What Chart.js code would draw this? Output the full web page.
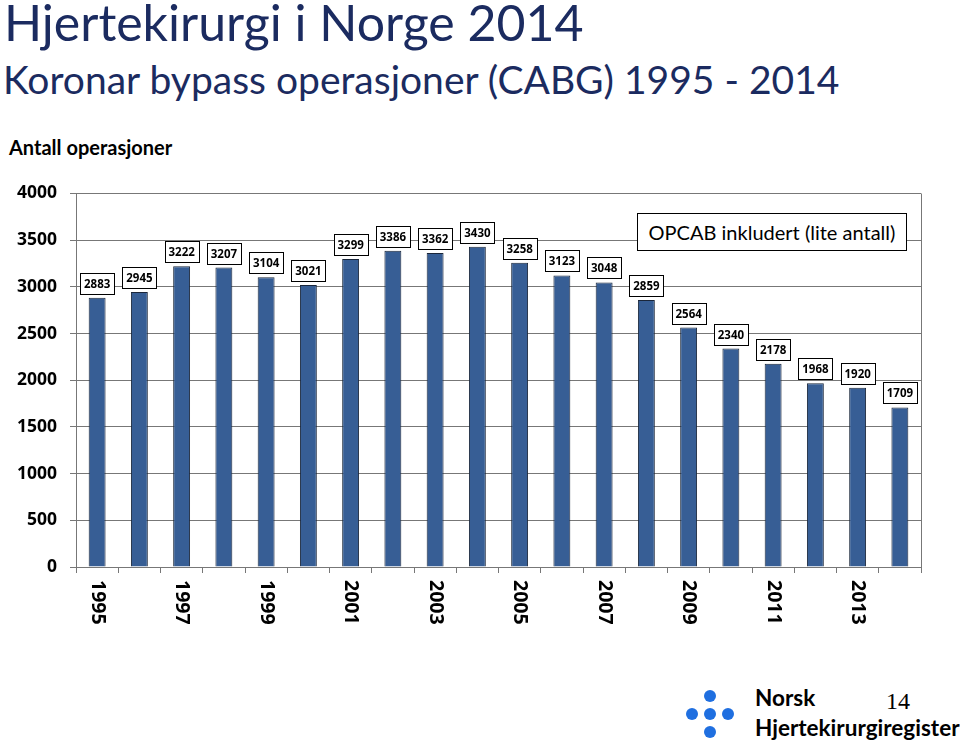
<!DOCTYPE html>
<html>
<head>
<meta charset="utf-8">
<script src="https://cdn.jsdelivr.net/npm/chart.js@4.4.1/dist/chart.umd.min.js"></script>
<style>
  body { margin: 0; width: 960px; height: 743px; position: relative; background: #fff; overflow: hidden; font-family: Lato, 'Open Sans', sans-serif; }
  .tittel { position: absolute; white-space: nowrap; color: #1b2b60; }
  #tittel { left: 4px; top: -8px; font-size: 50px; }
  #undertittel { left: 3px; top: 56px; font-size: 39px; }
  #ytittel { position: absolute; left: 9px; top: 135px; font-size: 20px; font-weight: bold; }
  #boks { position: absolute; left: 637px; top: 213px; width: 268px; height: 36px; border: 1px solid #000; background: #fff;
          font-size: 20px; text-align: center; line-height: 36px; z-index: 2; white-space: nowrap; }
  #wrap { position: absolute; left: 0; top: 170px; width: 960px; height: 470px; }
  .prikk { position: absolute; width: 12px; height: 12px; border-radius: 50%; background: #1f6fe0; }
  #norsk { position: absolute; left: 755px; top: 684px; font-size: 22.5px; font-weight: bold; }
  #register { position: absolute; left: 755px; top: 714px; font-size: 22.5px; font-weight: bold; white-space: nowrap; }
  #side { position: absolute; left: 886px; top: 688px; font-size: 24px; font-family: 'Liberation Serif', serif; }
</style>
</head>
<body>
<div class="tittel" id="tittel">Hjertekirurgi i Norge 2014</div>
<div class="tittel" id="undertittel">Koronar bypass operasjoner (CABG) 1995 - 2014</div>
<div id="ytittel">Antall operasjoner</div>
<div id="boks">OPCAB inkludert (lite antall)</div>
<div id="wrap"><canvas id="graf" width="960" height="470"></canvas></div>

<div class="prikk" style="left:704px;top:690px"></div>
<div class="prikk" style="left:686px;top:708px"></div>
<div class="prikk" style="left:704px;top:708px"></div>
<div class="prikk" style="left:722px;top:708px"></div>
<div class="prikk" style="left:704px;top:726px"></div>
<div id="norsk">Norsk</div>
<div id="register">Hjertekirurgiregister</div>
<div id="side">14</div>

<script>
// Data
const aar = ['1995', '1996', '1997', '1998', '1999', '2000', '2001', '2002', '2003', '2004',
             '2005', '2006', '2007', '2008', '2009', '2010', '2011', '2012', '2013', '2014'];
const operasjoner = [2883, 2945, 3222, 3207, 3104, 3021, 3299, 3386, 3362, 3430,
                     3258, 3123, 3048, 2859, 2564, 2340, 2178, 1968, 1920, 1709];
const yMin = 0;
const yMax = 4000;
const ySteg = 500;

// Etiketter over søylene + roterte årstall
const etiketter = {
  id: 'etiketter',
  beforeDatasetsDraw(chart) {
    // ramme til høyre
    const { ctx, chartArea: a } = chart;
    ctx.save();
    ctx.strokeStyle = '#777';
    ctx.lineWidth = 1;
    ctx.beginPath();
    ctx.moveTo(Math.round(a.right) + 0.5, a.top);
    ctx.lineTo(Math.round(a.right) + 0.5, a.bottom);
    ctx.stroke();
    ctx.restore();
  },
  afterDatasetsDraw(chart) {
    const ctx = chart.ctx;
    const meta = chart.getDatasetMeta(0);
    ctx.save();
    ctx.font = 'bold 11.5px "Open Sans"';
    ctx.textAlign = 'center';
    ctx.textBaseline = 'middle';
    meta.data.forEach((bar, i) => {
      const txt = String(operasjoner[i]);
      const w = Math.round(ctx.measureText(txt).width) + 8;
      const h = 21;
      const x = Math.round(bar.x - w / 2) + 0.5;
      const y = Math.round(bar.y - 4 - h) + 0.5;
      ctx.fillStyle = '#fff';
      ctx.fillRect(x, y, w, h);
      ctx.strokeStyle = '#000';
      ctx.lineWidth = 1;
      ctx.strokeRect(x, y, w, h);
      ctx.fillStyle = '#000';
      ctx.fillText(txt, bar.x, y + h / 2 + 0.5);
    });

    const xs = chart.scales.x;
    ctx.font = 'bold 19.5px "Open Sans"';
    ctx.textAlign = 'left';
    aar.forEach((a, i) => {
      if (i % 2) return;
      ctx.save();
      ctx.translate(xs.getPixelForValue(i), xs.top + 13);
      ctx.rotate(Math.PI / 2);
      ctx.fillText(a, 0, 0);
      ctx.restore();
    });
    ctx.restore();
  }
};

new Chart(document.getElementById('graf'), {
  type: 'bar',
  data: {
    labels: aar,
    datasets: [{
      data: operasjoner,
      backgroundColor: '#375e95',
      borderColor: '#1a263a',
      borderWidth: 1,
      barPercentage: 0.4,
      categoryPercentage: 1
    }]
  },
  options: {
    responsive: false,
    animation: false,
    layout: { padding: { left: 0, right: 39, top: 23, bottom: 0 } },
    scales: {
      x: {
        grid: { drawOnChartArea: false, drawTicks: true, tickLength: 6, color: '#777' },
        border: { display: true, color: '#777' },
        ticks: { display: false },
        afterFit: s => { s.height = 73; }
      },
      y: {
        min: yMin,
        max: yMax,
        ticks: {
          stepSize: ySteg,
          color: '#000',
          padding: 13,
          font: { family: 'Open Sans', weight: 'bold', size: 17.5 },
          callback: v => String(v)
        },
        grid: { color: '#777', tickLength: 6 },
        border: { display: true, color: '#777' },
        afterFit: s => { s.width = 76; }
      }
    },
    plugins: {
      legend: { display: false },
      tooltip: { enabled: false }
    }
  },
  plugins: [etiketter]
});
</script>
</body>
</html>
